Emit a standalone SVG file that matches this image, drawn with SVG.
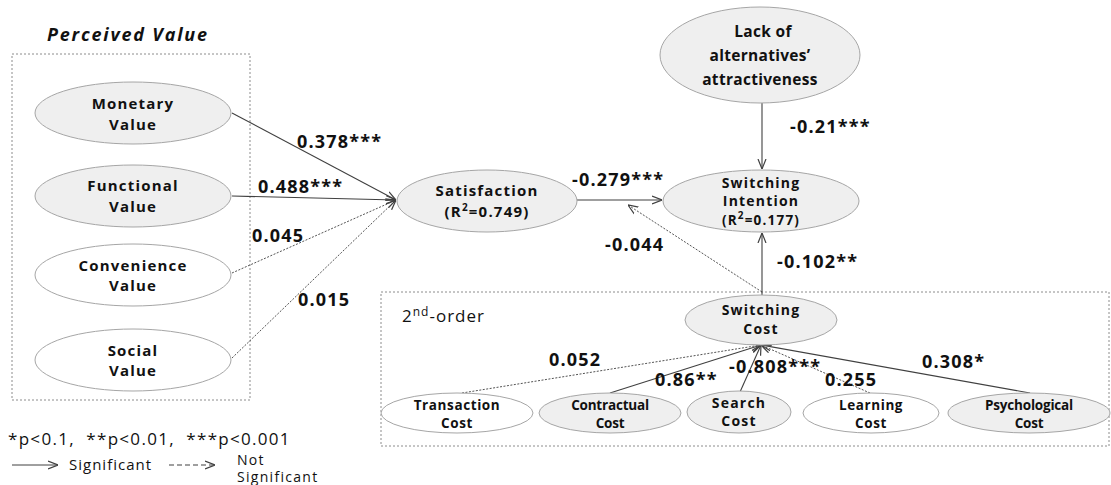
<svg xmlns="http://www.w3.org/2000/svg" width="1111" height="485" viewBox="0 0 1111 485">
<defs>
<marker id="arr" viewBox="0 0 10 10" refX="10" refY="5" markerWidth="10" markerHeight="10" markerUnits="userSpaceOnUse" orient="auto">
<polyline points="0,1 10,5 0,9" fill="none" stroke="#404040" stroke-width="1.2"/>
</marker>
</defs>
<style>
text{font-family:"Open Sans","Noto Sans","DejaVu Sans",sans-serif;fill:#111}
.n{font-size:15px;font-weight:bold;text-anchor:middle;letter-spacing:1.2px}
.t{font-size:14px;font-weight:bold;text-anchor:middle;letter-spacing:1.2px}
.s{font-size:13.5px;font-weight:bold;text-anchor:middle;letter-spacing:0.6px}
.c{font-size:13.5px;font-weight:bold;text-anchor:middle;letter-spacing:-0.2px}
.k{font-size:15.5px;font-weight:bold;text-anchor:middle;letter-spacing:0.3px}
.l{font-size:18px;font-weight:bold;letter-spacing:1.2px}
.g{fill:#efefef;stroke:#a6a6a6;stroke-width:1}
.w{fill:#ffffff;stroke:#a6a6a6;stroke-width:1}
.box{fill:none;stroke:#8c8c8c;stroke-width:1;stroke-dasharray:2,2}
.sol{stroke:#404040;stroke-width:1.1;fill:none;marker-end:url(#arr)}
.dsh{stroke:#404040;stroke-width:0.9;fill:none;stroke-dasharray:2,1.5;marker-end:url(#arr)}
.leg{font-size:17px;letter-spacing:1.3px;white-space:pre}
.lg{font-size:15px;letter-spacing:1px}
.lg2{font-size:14px;letter-spacing:1.3px}
</style>
<rect width="1111" height="485" fill="#ffffff"/>
<text x="47" y="41" style="font-size:18px;font-weight:bold;font-style:italic;letter-spacing:1.8px">Perceived Value</text>
<rect class="box" x="12" y="54" width="238" height="346"/>
<rect class="box" x="381" y="292" width="728" height="154"/>
<text x="402" y="322" style="font-size:17px;letter-spacing:1px">2<tspan dy="-6" style="font-size:12px">nd</tspan><tspan dy="6">-order</tspan></text>
<g id="connectors">
<line class="sol" x1="232" y1="113" x2="396" y2="200"/>
<line class="sol" x1="232" y1="196" x2="396" y2="200"/>
<line class="dsh" x1="232" y1="273" x2="396" y2="200"/>
<line class="dsh" x1="232" y1="358" x2="396" y2="200"/>
<line class="sol" x1="577" y1="200" x2="662" y2="200"/>
<line class="sol" x1="762" y1="103" x2="762" y2="169"/>
<line class="sol" x1="762" y1="295" x2="762" y2="233"/>
<line class="dsh" x1="762" y1="292" x2="628" y2="205"/>
<line class="dsh" x1="462" y1="393" x2="761" y2="345"/>
<line class="sol" x1="610" y1="393" x2="761" y2="345"/>
<line class="sol" x1="740" y1="392" x2="761" y2="345"/>
<line class="dsh" x1="870" y1="393" x2="761" y2="345"/>
<line class="sol" x1="1030" y1="393" x2="761" y2="345"/>
<text class="l" x="297" y="148">0.378***</text>
<text class="l" x="258" y="193">0.488***</text>
<text class="l" x="252" y="242">0.045</text>
<text class="l" x="298" y="306">0.015</text>
<text class="l" x="572" y="186">-0.279***</text>
<text class="l" x="790" y="133">-0.21***</text>
<text class="l" x="605" y="251">-0.044</text>
<text class="l" x="777" y="268">-0.102**</text>
<text class="l" x="549" y="366">0.052</text>
<text class="l" x="655" y="386">0.86**</text>
<text class="l" x="729" y="373">-0.808***</text>
<text class="l" x="825" y="386">0.255</text>
<text class="l" x="922" y="368">0.308*</text>
</g>
<g id="monetary"><ellipse class="g" cx="133" cy="113" rx="98" ry="31"/><text class="n" x="133" y="109">Monetary</text><text class="n" x="133" y="130">Value</text></g>
<g id="functional"><ellipse class="g" cx="133" cy="196" rx="98" ry="31"/><text class="n" x="133" y="191">Functional</text><text class="n" x="133" y="212">Value</text></g>
<g id="convenience"><ellipse class="w" cx="133" cy="275" rx="98" ry="31"/><text class="n" x="133" y="271">Convenience</text><text class="n" x="133" y="291">Value</text></g>
<g id="social"><ellipse class="w" cx="133" cy="360" rx="98" ry="31"/><text class="n" x="133" y="356">Social</text><text class="n" x="133" y="376">Value</text></g>
<g id="satisfaction"><ellipse class="g" cx="487" cy="201" rx="90" ry="31"/><text class="n" x="487" y="196">Satisfaction</text><text class="n" x="487" y="217">(R<tspan dy="-6" style="font-size:10px">2</tspan><tspan dy="6">=0.749)</tspan></text></g>
<g id="lack"><ellipse class="g" cx="760" cy="55" rx="100" ry="48"/><text class="k" x="763" y="37">Lack of</text><text class="k" x="760" y="61">alternatives’</text><text class="k" x="760" y="85">attractiveness</text></g>
<g id="intention"><ellipse class="g" cx="761" cy="201" rx="98" ry="31"/><text class="t" x="761" y="188">Switching</text><text class="t" x="761" y="206">Intention</text><text class="t" x="761" y="225" style="font-size:13.5px">(R<tspan dy="-6" style="font-size:10px">2</tspan><tspan dy="6">=0.177)</tspan></text></g>
<g id="switchingcost"><ellipse class="g" cx="761" cy="320" rx="76" ry="25"/><text class="t" x="761" y="315">Switching</text><text class="t" x="761" y="334">Cost</text></g>
<g id="transaction"><ellipse class="w" cx="457" cy="413" rx="76" ry="20"/><text class="s" x="457" y="410">Transaction</text><text class="s" x="457" y="428">Cost</text></g>
<g id="contractual"><ellipse class="g" cx="610" cy="413" rx="71" ry="20"/><text class="c" x="610" y="410">Contractual</text><text class="c" x="610" y="428">Cost</text></g>
<g id="search"><ellipse class="g" cx="739" cy="412" rx="52" ry="21"/><text class="t" x="739" y="408">Search</text><text class="t" x="739" y="426">Cost</text></g>
<g id="learning"><ellipse class="w" cx="871" cy="413" rx="68" ry="20"/><text class="s" x="871" y="410">Learning</text><text class="s" x="871" y="428">Cost</text></g>
<g id="psychological"><ellipse class="g" cx="1029" cy="413" rx="81" ry="20"/><text class="c" x="1029" y="410">Psychological</text><text class="c" x="1029" y="428">Cost</text></g>
<g id="legend">
<text class="leg" x="8" y="445" xml:space="preserve">*p&lt;0.1,  **p&lt;0.01,  ***p&lt;0.001</text>
<line x1="12" y1="465" x2="58" y2="465" stroke="#404040" stroke-width="1" marker-end="url(#arr)"/>
<text class="lg" x="69" y="470">Significant</text>
<line x1="169" y1="465" x2="215" y2="465" stroke="#404040" stroke-width="1.2" stroke-dasharray="5,3" marker-end="url(#arr)"/>
<text class="lg2" x="237" y="465">Not</text>
<text class="lg2" x="237" y="482">Significant</text>
</g>
</svg>
